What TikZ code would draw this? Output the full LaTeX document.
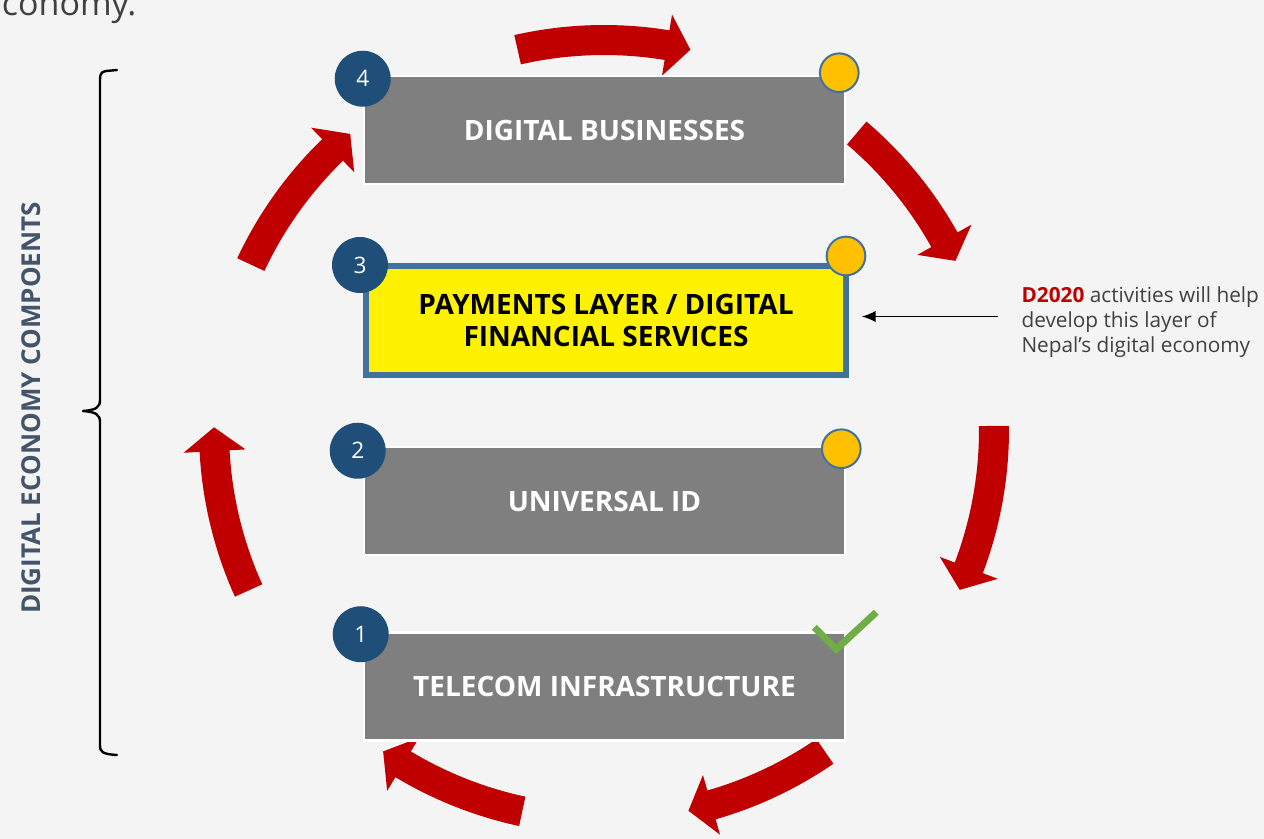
\documentclass[tikz,border=0pt]{standalone}
\usepackage{fontspec}
\setmainfont{Open Sans}
\usetikzlibrary{arrows.meta}

\definecolor{paper}{HTML}{F4F4F4}
\definecolor{slab}{HTML}{7F7F7F}
\definecolor{navy}{HTML}{1F4E79}
\definecolor{amber}{HTML}{FFC000}
\definecolor{steel}{HTML}{41719C}
\definecolor{cyclered}{HTML}{C00000}
\definecolor{tickgreen}{HTML}{70AD47}
\definecolor{inkgray}{HTML}{404040}
\definecolor{slate}{HTML}{44546A}

\tikzset{every picture/.style={line width=0.75pt}}
\tikzset{
  layer/.style={draw=white, line width=1.9pt, fill=slab, text=white, minimum width=360.75pt, minimum height=81pt, inner sep=0pt, align=center, font=\fontsize{21}{24}\selectfont\bfseries},
  paylayer/.style={layer, draw=steel, line width=4.5pt, fill=yellow, text=black, minimum width=360pt, minimum height=81.75pt},
  badge/.style={circle, fill=navy, text=white, minimum size=42pt, inner sep=0pt, font=\fontsize{17}{17}\selectfont},
  dot/.style={circle, draw=steel, line width=1.5pt, fill=amber, minimum size=29pt, inner sep=0pt},
  tick/.style={draw=tickgreen, line width=5.25pt},
  note/.style={inner sep=0pt, align=left, text=inkgray, font=\fontsize{15.6}{18.75}\selectfont},
  pointer/.style={-{Latex[length=10.5pt,width=8.5pt]}, line width=1.4pt, shorten <=17pt, shorten >=9.5pt},
  brace/.style={line width=1.8pt, line cap=round, line join=round},
  sidelabel/.style={inner sep=0pt, text=slate, font=\fontsize{19.5}{20}\selectfont\bfseries},
}

\begin{document}
\begin{tikzpicture}[x=0.75pt,y=0.75pt,yscale=-1,xscale=1]
\useasboundingbox (0,0) rectangle (1264,839);
\clip (0,0) rectangle (1264,839);
\fill[paper] (0,0) rectangle (1264,839);

% Text Node
\node[anchor=base east, inner sep=0pt, text=inkgray, font=\fontsize{25.5}{26}\selectfont] (econ) at (137,15) {economy.};

%Cycle arrows, tail angle / tip angle
\begin{scope}[shift={(604,430)}]
\foreach \ta/\tb in {-102.8/-77.2, -49.6/-25.7, -0.6/24.2, 55.5/77.5, 102.1/124.5, 155.7/180.4, 205.1/229.4}
{
  \pgfmathsetmacro{\tm}{\tb-3.5}
  \fill[cyclered] (\ta:405) arc[start angle=\ta, end angle=\tm, radius=405] -- (\tm:421) -- (\tb:390) -- (\tm:359) -- (\tm:375) arc[start angle=\tm, end angle=\ta, radius=375] -- cycle;
}
\end{scope}

%Shape: Rectangle
\node[layer] (biz) at (604.5,130) {DIGITAL BUSINESSES};
\node[paylayer] (pay) at (606,320.5) {PAYMENTS LAYER / DIGITAL\\FINANCIAL SERVICES};
\node[layer] (uid) at (604.5,501) {UNIVERSAL ID};
\node[layer] (tel) at (604.5,686.5) {TELECOM INFRASTRUCTURE};

%Shape: Circle
\node[badge] (n4) at ([shift={(0,4)}]biz.north west) {4};
\node[badge] (n3) at ([shift={(-3,2)}]pay.north west) {3};
\node[badge] (n2) at ([shift={(-5,5)}]uid.north west) {2};
\node[badge] (n1) at ([shift={(-2,3)}]tel.north west) {1};

\node[dot] (d4) at ([shift={(-7,-2)}]biz.north east) {};
\node[dot] (d3) at ([shift={(-3,-7)}]pay.north east) {};
\node[dot] (d2) at ([shift={(-5,3)}]uid.north east) {};

%Check mark
\draw[tick] ([shift={(-32,-4)}]tel.north east) -- ++(22,22) -- ++(40,-37);

% Text Node
\node[note, anchor=west] (note) at (1021,322) {\textcolor{cyclered}{\bfseries D2020} activities will help\\develop this layer of\\Nepal’s digital economy};
\draw[pointer] ([yshift=-3]pay.east -| note.west) -- ([yshift=-3]pay.east);

%Brace
\draw[brace] (117,70) -- (106,71) .. controls (101,72) and (100,74) .. (100,80) -- (100,400) .. controls (100,408) and (95,410) .. (83,411) .. controls (95,412) and (100,414) .. (100,422) -- (100,745) .. controls (100,752) and (102,754) .. (117,755);

% Text Node
\node[sidelabel, rotate=90] (comp) at (31,408) {DIGITAL ECONOMY COMPOENTS};

\end{tikzpicture}
\end{document}
